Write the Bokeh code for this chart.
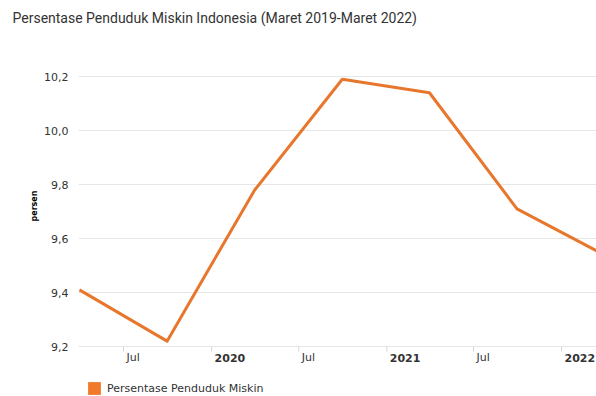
import math
import pandas as pd
from bokeh.plotting import figure
from bokeh.models import (ColumnDataSource, FixedTicker, CustomJSTickFormatter,
                          Legend, LegendItem, Range1d, Title)
from bokeh.core.properties import value
from bokeh.embed import file_html
from bokeh.resources import INLINE

# ---- data ----
periods = ["2019-03-31", "2019-09-30", "2020-03-31", "2020-09-30",
           "2021-03-31", "2021-09-30", "2022-03-31"]
values = [9.41, 9.22, 9.78, 10.19, 10.14, 9.71, 9.54]
series_name = "Persentase Penduduk Miskin"
title_text = "Persentase Penduduk Miskin Indonesia (Maret 2019-Maret 2022)"
y_label = "persen"
y_ticks = [9.2, 9.4, 9.6, 9.8, 10.0, 10.2]
x_tick_dates = ["2019-07-01", "2020-01-01", "2020-07-01",
                "2021-01-01", "2021-07-01", "2022-01-01"]
x_tick_labels = ["Jul", "2020", "Jul", "2021", "Jul", "2022"]
x_start, x_end = "2019-03-29", "2022-03-15"
y_start, y_end = 9.015, 10.3817
y_base = 9.2

LINE = "#E8772E"
GRID = "#e6e6e6"
TXT = "#333333"


def ms(d):
    return pd.Timestamp(d).timestamp() * 1000.0


src = ColumnDataSource(dict(date=pd.to_datetime(periods), value=values))

p = figure(width=596, height=396, x_axis_type="datetime",
           x_axis_location=None,
           x_range=Range1d(ms(x_start), ms(x_end)),
           y_range=Range1d(y_start, y_end),
           output_backend="svg", toolbar_location=None,
           min_border_left=78, min_border_right=0,
           min_border_top=27, min_border_bottom=0)

p.title.text = title_text
p.title.text_font = "Roboto"
p.title.text_font_size = "14px"
p.title.text_font_style = "normal"
p.title.text_color = TXT
p.title.align = "left"
p.title.offset = -66
p.title.standoff = 4

p.outline_line_color = None
p.background_fill_color = "white"
p.border_fill_color = "white"

# y axis
p.yaxis.ticker = FixedTicker(ticks=y_ticks)
p.yaxis.formatter = CustomJSTickFormatter(
    code="return tick.toFixed(1).replace('.', ',');")
p.yaxis.axis_line_color = None
p.yaxis.major_tick_line_color = None
p.yaxis.minor_tick_line_color = None
p.yaxis.major_tick_out = 0
p.yaxis.major_tick_in = 0
p.yaxis.major_label_standoff = 10
p.yaxis.major_label_text_font = "DejaVu Sans"
p.yaxis.major_label_text_font_size = "11px"
p.yaxis.major_label_text_color = TXT
p.ygrid.grid_line_color = GRID
p.ygrid.ticker = FixedTicker(ticks=y_ticks)
p.xgrid.grid_line_color = None

p.add_layout(Title(text=y_label, text_font="DejaVu Sans", text_font_size="8px",
                   text_font_style="bold", text_color="#000000",
                   align="left", offset=175, standoff=6), "left")

# x ticks (marks) and labels
tick_x = pd.to_datetime(x_tick_dates)
p.ray(x=tick_x, y=[y_base] * len(tick_x), length=5, length_units="screen",
      angle=-math.pi / 2, line_color="#d6d6d6", line_width=1)

is_year = [lab.isdigit() for lab in x_tick_labels]
for bold in (False, True):
    xs = [d for d, b in zip(tick_x, is_year) if b == bold]
    labs = [l for l, b in zip(x_tick_labels, is_year) if b == bold]
    p.text(x=xs, y=[y_base] * len(xs), text=labs, x_offset=3, y_offset=11,
           text_align="left", text_baseline="middle",
           text_font=value("DejaVu Sans"), text_font_size="11px",
           text_font_style="bold" if bold else "normal", text_color=TXT)

p.line(x="date", y="value", source=src, line_color=LINE, line_width=3,
       line_join="round")

# legend swatch: zero-area quads at the data points (invisible in the plot)
q = p.quad(left="date", right="date", top="value", bottom="value", source=src,
           fill_color="#F07A2A", line_color=None)
legend = Legend(items=[LegendItem(label=series_name, renderers=[q])],
                location=(8, 0), orientation="horizontal",
                glyph_width=16, glyph_height=16, label_height=16,
                padding=0, margin=0, spacing=0, label_standoff=5,
                border_line_color=None, background_fill_alpha=0,
                label_text_font="DejaVu Sans", label_text_font_size="11px",
                label_text_color=TXT)
p.add_layout(legend, "center")

open("out.html", "w").write(file_html(p, INLINE))
